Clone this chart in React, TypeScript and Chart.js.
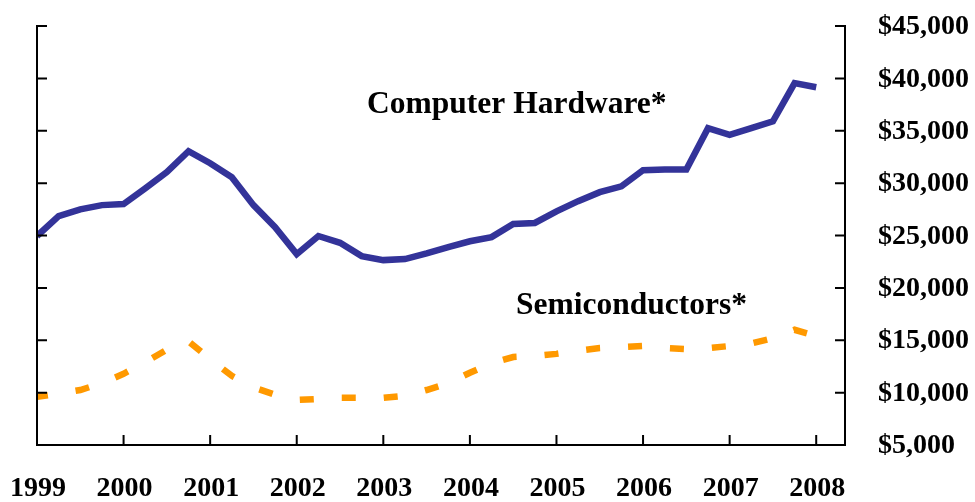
import React, { useEffect, useRef } from "react";
import { Chart, registerables } from "chart.js";

Chart.register(...registerables);

// Year tick labels (one per 4 quarters)
const yearLabels = ["1999", "2000", "2001", "2002", "2003", "2004", "2005", "2006", "2007", "2008"];

// Quarterly values, 1999 Q1 .. 2008 Q1
const computerHardware = [
  24950, 26850, 27500, 27900,
  28000, 29500, 31050, 33050,
  31900, 30570, 27900, 25800,
  23220, 24950, 24300, 23030,
  22650, 22750, 23300, 23900,
  24450, 24850, 26100, 26200,
  27300, 28280, 29140, 29700,
  31230, 31300, 31300, 35250,
  34600, 35250, 35900, 39550,
  39150,
];

const semiconductors = [
  9600, 9900, 10250, 10900,
  11800, 12900, 14100, 14900,
  13200, 11600, 10500, 9800,
  9300, 9400, 9500, 9500,
  9500, 9700, 10250, 10900,
  11900, 12800, 13400, 13500,
  13700, 14000, 14250, 14350,
  14450, 14250, 14150, 14250,
  14450, 14700, 15200, 16000,
  15400,
];

const yTickValues = [5000, 10000, 15000, 20000, 25000, 30000, 35000, 40000, 45000];

const FONT = '"Liberation Serif", "Times New Roman", serif';

export default function App() {
  const canvasRef = useRef<HTMLCanvasElement | null>(null);

  useEffect(() => {
    document.body.style.margin = "0";
    const canvas = canvasRef.current;
    if (!canvas) return;

    const axesPlugin = {
      id: "customAxes",
      afterDatasetsDraw(chart: any) {
        const { ctx, chartArea } = chart;
        const xs = chart.scales.x;
        const ys = chart.scales.y;
        const { left, right, top, bottom } = chartArea;
        const tickLen = 10;
        ctx.save();
        ctx.strokeStyle = "#000";
        ctx.lineWidth = 2;
        ctx.lineCap = "butt";
        ctx.beginPath();
        // left, right, bottom axis lines
        ctx.moveTo(left, top - 1);
        ctx.lineTo(left, bottom + 1);
        ctx.moveTo(right, top - 1);
        ctx.lineTo(right, bottom + 1);
        ctx.moveTo(left - 1, bottom);
        ctx.lineTo(right + 1, bottom);
        // y ticks (inward on both sides)
        yTickValues.forEach((v) => {
          const py = ys.getPixelForValue(v);
          ctx.moveTo(left, py);
          ctx.lineTo(left + tickLen, py);
          ctx.moveTo(right - tickLen, py);
          ctx.lineTo(right, py);
        });
        // x ticks (inward)
        yearLabels.forEach((_, i) => {
          const px = xs.getPixelForValue(i * 4);
          ctx.moveTo(px, bottom);
          ctx.lineTo(px, bottom - tickLen);
        });
        ctx.stroke();

        ctx.fillStyle = "#000";
        ctx.font = `bold 28px ${FONT}`;
        // right axis labels
        ctx.textAlign = "left";
        ctx.textBaseline = "middle";
        yTickValues.forEach((v) => {
          ctx.fillText("$" + v.toLocaleString("en-US"), right + 33, ys.getPixelForValue(v) + 1);
        });
        // x axis labels
        ctx.textAlign = "center";
        yearLabels.forEach((lab, i) => {
          ctx.fillText(lab, xs.getPixelForValue(i * 4) + 1, bottom + 44);
        });

        // series annotations
        ctx.font = `bold 31.5px ${FONT}`;
        ctx.textAlign = "left";
        ctx.textBaseline = "alphabetic";
        const notes = [
          { text: "Computer Hardware*", qx: 15.25, vy: 36700 },
          { text: "Semiconductors*", qx: 22.13, vy: 17500 },
        ];
        notes.forEach((n) => {
          ctx.fillText(n.text, xs.getPixelForValue(n.qx), ys.getPixelForValue(n.vy));
        });
        ctx.restore();
      },
    };

    const chart = new Chart(canvas, {
      type: "line",
      data: {
        datasets: [
          {
            label: "Computer Hardware*",
            data: computerHardware.map((v, i) => ({ x: i, y: v })),
            borderColor: "#333399",
            backgroundColor: "#333399",
            borderWidth: 6.5,
            pointRadius: 0,
            tension: 0,
            fill: false,
          },
          {
            label: "Semiconductors*",
            data: semiconductors.map((v, i) => ({ x: i, y: v })),
            borderColor: "#FF9900",
            backgroundColor: "#FF9900",
            borderWidth: 6.5,
            borderDash: [14, 28],
            borderDashOffset: 3,
            borderCapStyle: "butt",
            pointRadius: 0,
            tension: 0,
            fill: false,
          },
        ],
      },
      options: {
        responsive: false,
        animation: false,
        layout: { padding: { left: 37, top: 26, right: 130, bottom: 57 } },
        plugins: {
          legend: { display: false },
          tooltip: { enabled: false },
        },
        scales: {
          x: {
            type: "linear",
            min: 0,
            max: 37.33,
            display: false,
          },
          y: {
            type: "linear",
            min: 5000,
            max: 45000,
            display: false,
          },
        },
      },
      plugins: [axesPlugin],
    } as any);

    return () => chart.destroy();
  }, []);

  return (
    <canvas
      ref={canvasRef}
      width={975}
      height={502}
      style={{ position: "absolute", left: 0, top: 0, display: "block" }}
    />
  );
}
